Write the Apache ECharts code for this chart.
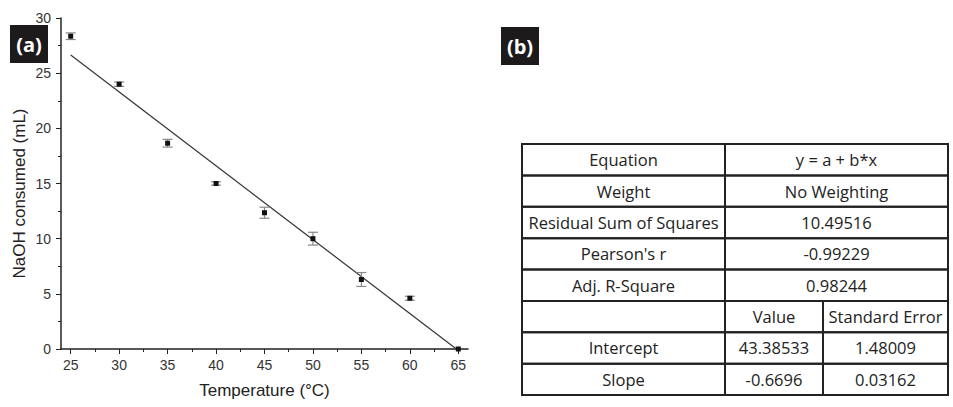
<!DOCTYPE html>
<html><head><meta charset="utf-8">
<script src="https://cdn.jsdelivr.net/npm/echarts@6/dist/echarts.min.js"></script>
<style>html,body{margin:0;padding:0;background:#fff}#c{width:953px;height:407px}</style>
</head><body><div id="c"></div>
<script>
// ---- data ----
var temperatures = [25, 30, 35, 40, 45, 50, 55, 60, 65];
var naohMeans    = [28.35, 24.0, 18.65, 15.0, 12.35, 10.0, 6.3, 4.6, 0];
var naohErrors   = [0.3, 0.2, 0.35, 0.15, 0.5, 0.58, 0.63, 0.18, 0];
var fitX = [25, 64.8];
var fitY = [26.65, 0];
var xTickLabels = [25, 30, 35, 40, 45, 50, 55, 60, 65];
var xMinorTicks = [27.5, 32.5, 37.5, 42.5, 47.5, 52.5, 57.5, 62.5];
var tableRows = [
  ['Equation', 'y = a + b*x'],
  ['Weight', 'No Weighting'],
  ['Residual Sum of Squares', '10.49516'],
  ["Pearson's r", '-0.99229'],
  ['Adj. R-Square', '0.98244'],
  ['', 'Value', 'Standard Error'],
  ['Intercept', '43.38533', '1.48009'],
  ['Slope', '-0.6696', '0.03162']
];
var panelLabels = ['(a)', '(b)'];

// ---- build ----
var points = temperatures.map(function (t, i) { return [t, naohMeans[i], naohErrors[i]]; });
var fitLine = fitX.map(function (x, i) { return [x, fitY[i]]; });

var graphics = [];
var labelBoxes = [[10, 25], [501, 27]];
panelLabels.forEach(function (lab, i) {
  graphics.push({ type: 'rect', shape: { x: labelBoxes[i][0], y: labelBoxes[i][1], width: 38, height: 38 }, style: { fill: '#1c1a1a' } });
  graphics.push({ type: 'text', x: labelBoxes[i][0] + 19, y: labelBoxes[i][1] + 19,
    style: { text: lab, fill: '#fff', font: 'bold 20px "Open Sans"', align: 'center', verticalAlign: 'middle' } });
});
var tX0 = 522, tX1 = 725, tX2 = 823, tX3 = 948, tY0 = 144, rowH = 31.375;
var tFont = '16.5px "Open Sans"';
tableRows.forEach(function (row, r) {
  var y = tY0 + r * rowH;
  var cells = row.length === 2 ? [[tX0, tX1], [tX1, tX3]] : [[tX0, tX1], [tX1, tX2], [tX2, tX3]];
  cells.forEach(function (c, k) {
    graphics.push({ type: 'rect', shape: { x: c[0], y: y, width: c[1] - c[0], height: rowH }, style: { fill: 'none', stroke: '#222', lineWidth: 2 } });
    if (row[k]) {
      graphics.push({ type: 'text', x: (c[0] + c[1]) / 2, y: y + rowH / 2,
        style: { text: row[k], fill: '#222', font: tFont, align: 'center', verticalAlign: 'middle' } });
    }
  });
});

var chart = echarts.init(document.getElementById('c'), null, { renderer: 'svg' });
var axisColor = '#222';
chart.setOption({
  animation: false,
  grid: { left: 61, right: 485, top: 18, bottom: 58, containLabel: false },
  xAxis: [{
    type: 'value', min: 24, max: 66,
    name: 'Temperature (°C)', nameLocation: 'middle', nameGap: 33,
    nameTextStyle: { fontFamily: 'Liberation Sans', fontSize: 17, color: '#222' },
    axisLine: { onZero: false, lineStyle: { color: axisColor, width: 1.5 } },
    axisTick: { show: true, inside: false, length: 5, customValues: xTickLabels, lineStyle: { color: axisColor, width: 1 } },
    axisLabel: { customValues: xTickLabels, margin: 9, fontFamily: 'Liberation Sans', fontSize: 14, color: '#333' },
    splitLine: { show: false }
  }, {
    type: 'value', min: 24, max: 66, position: 'bottom', gridIndex: 0,
    axisLine: { show: false },
    axisTick: { show: true, length: 3, customValues: xMinorTicks, lineStyle: { color: axisColor, width: 1 } },
    axisLabel: { show: false },
    splitLine: { show: false }
  }],
  yAxis: {
    type: 'value', min: 0, max: 30, interval: 5,
    name: 'NaOH consumed (mL)', nameLocation: 'middle', nameGap: 33,
    nameTextStyle: { fontFamily: 'Liberation Sans', fontSize: 17, color: '#222', padding: [0, 20, 0, 0] },
    axisLine: { show: true, lineStyle: { color: axisColor, width: 1.5 } },
    axisTick: { show: true, length: 5, lineStyle: { color: axisColor, width: 1 } },
    minorTick: { show: true, splitNumber: 2, length: 3, lineStyle: { color: axisColor, width: 1 } },
    axisLabel: { margin: 10, fontFamily: 'Liberation Sans', fontSize: 14, color: '#333' },
    splitLine: { show: false }
  },
  series: [{
    type: 'line', data: fitLine, xAxisIndex: 0, showSymbol: false, symbol: 'none',
    lineStyle: { color: '#333', width: 1.2 }, z: 2
  }, {
    type: 'custom', xAxisIndex: 0, data: points, z: 3,
    renderItem: function (params, api) {
      var x = api.value(0), y = api.value(1), e = api.value(2);
      var pTop = api.coord([x, y + e]), pBot = api.coord([x, y - e]), p = api.coord([x, y]);
      var cw = 5;
      var st = { stroke: '#888', lineWidth: 1.2 };
      var children = [];
      if (e > 0) {
        children.push({ type: 'line', shape: { x1: p[0], y1: pTop[1], x2: p[0], y2: pBot[1] }, style: st });
        children.push({ type: 'line', shape: { x1: p[0] - cw, y1: pTop[1], x2: p[0] + cw, y2: pTop[1] }, style: st });
        children.push({ type: 'line', shape: { x1: p[0] - cw, y1: pBot[1], x2: p[0] + cw, y2: pBot[1] }, style: st });
      }
      children.push({ type: 'rect', shape: { x: p[0] - 2.5, y: p[1] - 2.5, width: 5, height: 5 }, style: { fill: '#111' } });
      return { type: 'group', children: children };
    }
  }],
  graphic: graphics
});
</script></body></html>
